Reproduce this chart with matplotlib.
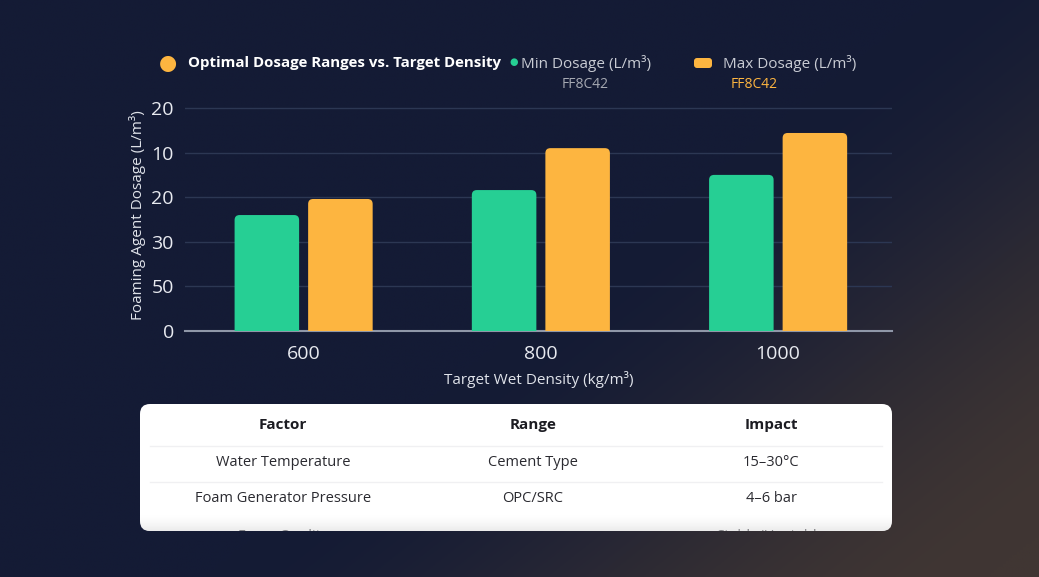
import numpy as np
import matplotlib.pyplot as plt
from matplotlib.patches import FancyBboxPatch
from matplotlib.transforms import Bbox, TransformedBbox

plt.rcParams['font.family'] = ['Open Sans', 'DejaVu Sans']

# chart data
densities = ["600", "800", "1000"]
min_dosage = [13.0, 15.8, 17.5]
max_dosage = [14.8, 20.5, 22.2]
ytick_vals = [0, 5, 10, 15, 20, 25]
ytick_labels = ["0", "50", "30", "20", "10", "20"]

# table under the chart
table_header = ["Factor", "Range", "Impact"]
table_rows = [
    ["Water Temperature", "Cement Type", "15\u201330\u00b0C"],
    ["Foam Generator Pressure", "OPC/SRC", "4\u20136 bar"],
    ["Foam Quality", "", "Stable/Unstable"],
]

GREEN = "#26cf94"
ORANGE = "#fdb540"

W, H = 1039, 577
fig = plt.figure(figsize=(W / 100, H / 100), dpi=100)

# background gradient: navy, drifting to warm grey in the lower right
bg = fig.add_axes([0, 0, 1, 1], zorder=0)
yy, xx = np.mgrid[0:1:200j, 0:1:360j]
t = np.clip((xx * 1.0 + yy * 0.7 - 0.9) / 0.75, 0, 1)
t = t * t * (3 - 2 * t)
c0 = np.array([0x14, 0x1b, 0x35]) / 255
c1 = np.array([0x40, 0x36, 0x33]) / 255
img = c0[None, None, :] * (1 - t[..., None]) + c1[None, None, :] * t[..., None]
bg.imshow(img, extent=[0, 1, 0, 1], origin="upper", aspect="auto")
bg.set_axis_off()

# main axes
ax_top_px = 100
ax = fig.add_axes([185 / W, 1 - 331 / H, (892 - 185) / W, (331 - ax_top_px) / H], zorder=2)
ax.patch.set_alpha(0)
ymax = 25 * (331 - ax_top_px) / (331 - 108)
ax.set_xlim(-0.5, 2.48)
ax.set_ylim(0, ymax)

x = np.arange(len(densities))
bw = 0.272
off = 0.155
px_x = (892 - 185) / 2.98
px_y = (331 - ax_top_px) / ymax
r = 5 / px_x
asp = px_x / px_y
for xi, lo, hi in zip(x, min_dosage, max_dosage):
    for cx, v, col in [(xi - off, lo, GREEN), (xi + off, hi, ORANGE)]:
        p = FancyBboxPatch((cx - bw / 2, -2), bw, v + 2,
                           boxstyle=f"round,pad=0,rounding_size={r}",
                           mutation_aspect=asp, fc=col, ec="none", zorder=3)
        ax.add_patch(p)

ax.set_yticks(ytick_vals)
ax.set_yticklabels(ytick_labels)
ax.yaxis.grid(True, color="#2c3753", lw=1)
ax.set_axisbelow(True)
ax.set_xticks(x)
ax.set_xticklabels(densities)
ax.tick_params(axis="both", length=0, colors="#e8eaf0")
ax.tick_params(axis="y", labelsize=14, pad=8)
ax.tick_params(axis="x", labelsize=14, pad=10)
for s in ["top", "right", "left"]:
    ax.spines[s].set_visible(False)
ax.spines["bottom"].set_color("#8f97a8")
ax.spines["bottom"].set_linewidth(1.5)
ax.set_xlabel("Target Wet Density (kg/m\u00b3)", color="#e0e3ea", fontsize=11, labelpad=6)
ax.set_ylabel("Foaming Agent Dosage (L/m\u00b3)", color="#e0e3ea", fontsize=11, labelpad=4)

# title and legend row
fig.text(168 / W, 1 - 63 / H, "\u25cf", color=ORANGE, fontsize=15, ha="center", va="center")
fig.text(188 / W, 1 - 63 / H, "Optimal Dosage Ranges vs. Target Density", color="white",
         fontsize=10.8, fontweight="bold", ha="left", va="center")
fig.text(514 / W, 1 - 63 / H, "\u25cf", color=GREEN, fontsize=7, ha="center", va="center")
fig.text(521 / W, 1 - 63 / H, "Min Dosage (L/m\u00b3)", color="#c9ccd4", fontsize=11,
         ha="left", va="center")
fig.text(585 / W, 1 - 85 / H, "FF8C42", color="#a6a9b2", fontsize=10, ha="center", va="center")
leg_ax = fig.add_axes([0, 0, 1, 1], zorder=1)
leg_ax.set_xlim(0, W)
leg_ax.set_ylim(H, 0)
leg_ax.set_axis_off()
leg_ax.add_patch(FancyBboxPatch((694, 58), 18, 10, boxstyle="round,pad=0,rounding_size=3",
                                fc=ORANGE, ec="none"))
fig.text(723 / W, 1 - 63 / H, "Max Dosage (L/m\u00b3)", color="#c9ccd4", fontsize=11,
         ha="left", va="center")
fig.text(754 / W, 1 - 85 / H, "FF8C42", color=ORANGE, fontsize=10, ha="center", va="center")

# table panel
tab = fig.add_axes([0, 0, 1, 1], zorder=3)
tab.set_xlim(0, W)
tab.set_ylim(H, 0)
tab.set_axis_off()
box = FancyBboxPatch((140, 404), 752, 127, boxstyle="round,pad=0,rounding_size=10",
                     fc="white", ec="none")
tab.add_patch(box)
fade = np.linspace(0, 1, 50)[:, None] ** 1.5
shade = tab.imshow(np.dstack([np.full((50, 1, 3), 0.86), fade[..., None] * 0.55]),
                   extent=[140, 892, 531, 514], aspect="auto", zorder=2)
shade.set_clip_path(box)
clip = TransformedBbox(Bbox([[140, 404], [892, 531]]), tab.transData)
col_x = [283, 533, 771]
for cx, h in zip(col_x, table_header):
    tab.text(cx, 425, h, ha="center", va="center", fontsize=11, fontweight="bold",
             color="#1c1c22")
for y in [446, 482]:
    tab.plot([150, 882], [y, y], color="#f0f0f2", lw=1, zorder=1)
for row, y in zip(table_rows, [463, 499, 536]):
    for cx, v in zip(col_x, row):
        t = tab.text(cx, y, v, ha="center", va="center", fontsize=10.5, color="#2a2a30",
                     zorder=1, clip_on=True)
        t.set_clip_box(clip)

fig.savefig("out.png", dpi=100)
